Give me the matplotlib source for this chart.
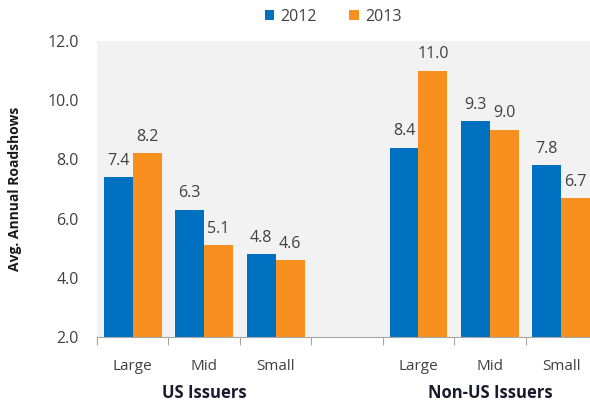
import numpy as np
import matplotlib
matplotlib.use("Agg")
import matplotlib.pyplot as plt
import matplotlib.transforms as mtransforms

# Data
categories = ["Large", "Mid", "Small", "", "Large", "Mid", "Small"]
groups = ["US Issuers", "Non-US Issuers"]
values_2012 = [7.4, 6.3, 4.8, np.nan, 8.4, 9.3, 7.8]
values_2013 = [8.2, 5.1, 4.6, np.nan, 11.0, 9.0, 6.7]

blue = "#0070C0"
orange = "#F7901E"
text_color = "#404040"

plt.rcParams["font.family"] = ["Open Sans", "DejaVu Sans"]

fig = plt.figure(figsize=(5.9, 4.03), dpi=100)
ax = fig.add_axes([97 / 590, 1 - 337 / 403, 500 / 590, 296 / 403])
ax.set_facecolor("#F2F2F2")

x = np.arange(len(categories))
width = 0.405
b1 = ax.bar(x - width / 2, values_2012, width=width, color=blue, label="2012")
b2 = ax.bar(x + width / 2, values_2013, width=width, color=orange, label="2013")

# Value labels
for bars, vals in ((b1, values_2012), (b2, values_2013)):
    for rect, v in zip(bars, vals):
        if np.isnan(v):
            continue
        ax.annotate(f"{v:.1f}", (rect.get_x() + rect.get_width() / 2, v),
                    xytext=(0, 6), textcoords="offset points",
                    ha="center", va="bottom", fontsize=11.5, color=text_color)

ax.set_ylim(2, 12)
ax.set_xlim(-0.5, len(categories) - 0.5)
ax.set_yticks(np.arange(2, 12.1, 2))
ax.set_yticklabels([f"{t:.1f}" for t in np.arange(2, 12.1, 2)],
                   fontsize=11.5, color=text_color)
ax.tick_params(axis="y", length=0, pad=13)

# Separator ticks between categories, labels centred in slots
ax.set_xticks(np.arange(-0.5, len(categories), 1.0))
ax.set_xticklabels([])
ax.tick_params(axis="x", which="major", length=6, color="#A6A6A6", direction="out")
ax.set_xticks(x, minor=True)
ax.set_xticklabels(categories, minor=True, fontsize=11, color=text_color)
ax.tick_params(axis="x", which="minor", length=0, pad=16)

for side in ("top", "right", "left"):
    ax.spines[side].set_visible(False)
ax.spines["bottom"].set_color("#A6A6A6")

# Group labels
trans = mtransforms.blended_transform_factory(ax.transData, fig.transFigure)
ax.text(1, 1 - 393 / 403, groups[0], transform=trans, ha="center", va="center",
        fontsize=12, fontweight="bold", color="#1a1a2e")
ax.text(5, 1 - 393 / 403, groups[1], transform=trans, ha="center", va="center",
        fontsize=12, fontweight="bold", color="#1a1a2e")

ax.set_ylabel("Avg. Annual Roadshows", fontsize=10, fontweight="bold", color="#1a1a1a")
ax.yaxis.set_label_coords(-0.15, 0.5)

fig.legend(handles=[b1, b2], loc="center", bbox_to_anchor=(333 / 590, 1 - 17 / 403),
           ncol=2, frameon=False, fontsize=11.5, handlelength=0.6, handleheight=0.6,
           handletextpad=0.4, columnspacing=2.0, labelcolor=text_color)

fig.savefig("out.png", dpi=100)
